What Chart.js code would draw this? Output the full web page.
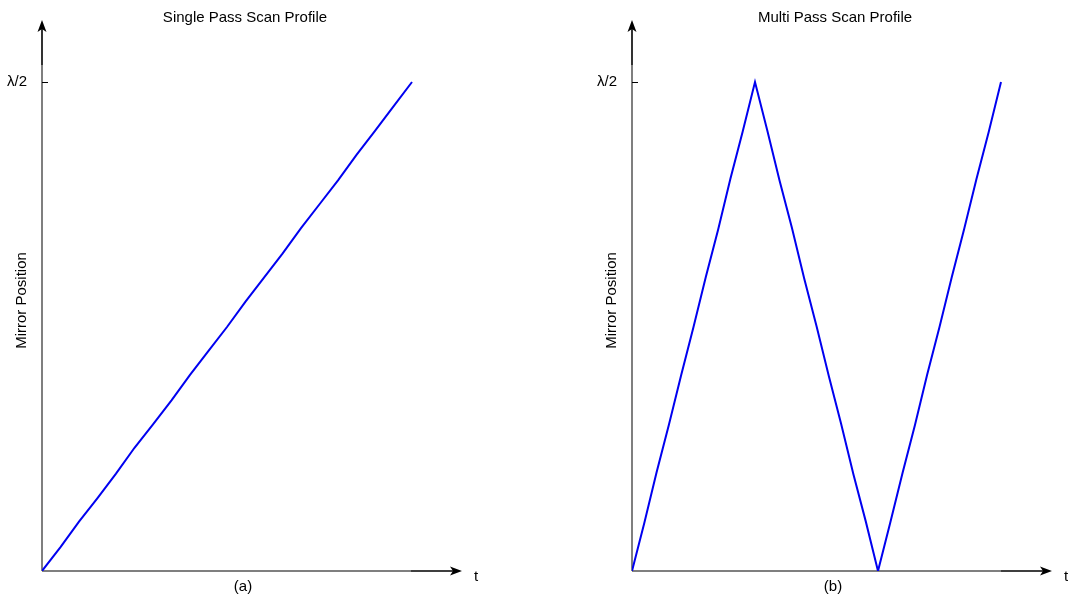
<!DOCTYPE html>
<html lang="en">
<head>
    <meta charset="UTF-8">
    <title>Scan Profiles</title>
    <script src="https://cdn.jsdelivr.net/npm/chart.js"></script>
    <style>
        html, body {
            margin: 0;
            padding: 0;
            background: #fff;
            overflow: hidden;
            width: 1068px;
            height: 597px;
        }
        .panel {
            position: absolute;
            top: 0;
        }
    </style>
</head>
<body>

    <div class="panel" style="left:0px"><canvas id="singleChart" width="490" height="597"></canvas></div>
    <div class="panel" style="left:590px"><canvas id="multiChart" width="490" height="597"></canvas></div>

    <script>
        // values (position in units of lambda/2)
        const singleT   = [0, 0.05, 0.1, 0.15, 0.2, 0.25, 0.3, 0.35, 0.4, 0.45, 0.5,
                           0.55, 0.6, 0.65, 0.7, 0.75, 0.8, 0.85, 0.9, 0.95, 1.0];
        const singlePos = [0, 0.049, 0.101, 0.149, 0.199, 0.252, 0.300, 0.349, 0.401, 0.450, 0.499,
                           0.551, 0.600, 0.649, 0.701, 0.750, 0.799, 0.851, 0.900, 0.950, 1.0];

        const multiT   = [0, 0.1, 0.2, 0.3, 0.4, 0.5, 0.6, 0.7, 0.8, 0.9, 1.0,
                          1.1, 1.2, 1.3, 1.4, 1.5, 1.6, 1.7, 1.8, 1.9, 2.0,
                          2.1, 2.2, 2.3, 2.4, 2.5, 2.6, 2.7, 2.8, 2.9, 3.0];
        const multiPos = [0, 0.098, 0.202, 0.299, 0.401, 0.499, 0.601, 0.698, 0.802, 0.899, 1.0,
                          0.901, 0.798, 0.702, 0.598, 0.501, 0.399, 0.301, 0.198, 0.102, 0,
                          0.099, 0.201, 0.298, 0.402, 0.499, 0.601, 0.699, 0.801, 0.898, 1.0];

        const yTickLabels = ['λ/2'];

        const FONT = '"Liberation Sans", Arial, sans-serif';
        const FSIZE = 15;

        // axes with arrows, the lambda/2 tick mark, titles and the "t" label
        const decor = {
            id: 'decor',
            beforeDatasetsDraw(chart, args, opts) {
                const ctx = chart.ctx;
                const a = chart.chartArea;
                const ox = a.left, oy = a.bottom;
                const yTop = a.top - 10, xEnd = a.right;
                ctx.save();
                ctx.lineWidth = 2;
                ctx.strokeStyle = '#7f7f7f';
                ctx.beginPath();
                ctx.moveTo(ox, oy); ctx.lineTo(ox, yTop + 45);
                ctx.moveTo(ox, oy); ctx.lineTo(xEnd - 51, oy);
                ctx.stroke();
                ctx.strokeStyle = '#000';
                ctx.lineWidth = 1.6;
                ctx.beginPath();
                ctx.moveTo(ox, yTop + 45); ctx.lineTo(ox, yTop + 8);
                ctx.moveTo(xEnd - 51, oy); ctx.lineTo(xEnd - 8, oy);
                ctx.stroke();
                ctx.fillStyle = '#000';
                ctx.beginPath();
                ctx.moveTo(ox, yTop);
                ctx.lineTo(ox + 4.5, yTop + 12);
                ctx.lineTo(ox, yTop + 9);
                ctx.lineTo(ox - 4.5, yTop + 12);
                ctx.closePath();
                ctx.fill();
                ctx.beginPath();
                ctx.moveTo(xEnd, oy);
                ctx.lineTo(xEnd - 12, oy - 4.5);
                ctx.lineTo(xEnd - 9, oy);
                ctx.lineTo(xEnd - 12, oy + 4.5);
                ctx.closePath();
                ctx.fill();
                // tick mark at lambda/2
                const yt = chart.scales.y.getPixelForValue(1);
                ctx.lineWidth = 1;
                ctx.beginPath();
                ctx.moveTo(ox, yt + 0.5); ctx.lineTo(ox + 6, yt + 0.5);
                ctx.stroke();
                // texts
                ctx.font = FSIZE + 'px ' + FONT;
                ctx.textAlign = 'center';
                ctx.textBaseline = 'middle';
                ctx.fillText(opts.title, ox + 203, 18);
                ctx.fillText(opts.caption, ox + 201, 587);
                ctx.textAlign = 'left';
                ctx.fillText('t', xEnd + 12, oy + 6);
                ctx.restore();
            }
        };

        function makeChart(id, ts, pos, xMax, title, caption) {
            const ctx = document.getElementById(id).getContext('2d');
            return new Chart(ctx, {
                type: 'line',
                data: {
                    datasets: [{
                        data: ts.map((t, i) => ({x: t, y: pos[i]})),
                        borderColor: '#0000f0',
                        borderWidth: 2,
                        pointRadius: 0,
                        tension: 0,
                        fill: false
                    }]
                },
                options: {
                    responsive: false,
                    animation: false,
                    devicePixelRatio: 1,
                    layout: { padding: { top: 30, right: 28, left: 0, bottom: 0 } },
                    plugins: {
                        legend: { display: false },
                        tooltip: { enabled: false },
                        decor: { title: title, caption: caption }
                    },
                    scales: {
                        x: {
                            type: 'linear',
                            min: 0,
                            max: xMax,
                            grid: { display: false, drawTicks: false },
                            border: { display: false },
                            ticks: { display: false },
                            afterFit(scale) { scale.height = 26; }
                        },
                        y: {
                            type: 'linear',
                            min: 0,
                            max: 541 / 489,
                            grid: { display: false, drawTicks: false },
                            border: { display: false },
                            afterBuildTicks(scale) { scale.ticks = [{ value: 1 }]; },
                            ticks: {
                                padding: 15,
                                color: '#000',
                                font: { family: FONT, size: FSIZE },
                                callback: () => yTickLabels[0]
                            },
                            title: {
                                display: true,
                                text: 'Mirror Position',
                                color: '#000',
                                font: { family: FONT, size: FSIZE },
                                padding: { top: 13, bottom: 0 }
                            },
                            afterFit(scale) { scale.width = 42; }
                        }
                    }
                },
                plugins: [decor]
            });
        }

        makeChart('singleChart', singleT, singlePos, 420 / 370, 'Single Pass Scan Profile', '(a)');
        makeChart('multiChart', multiT, multiPos, 420 / 123, 'Multi Pass Scan Profile', '(b)');
    </script>
</body>
</html>
